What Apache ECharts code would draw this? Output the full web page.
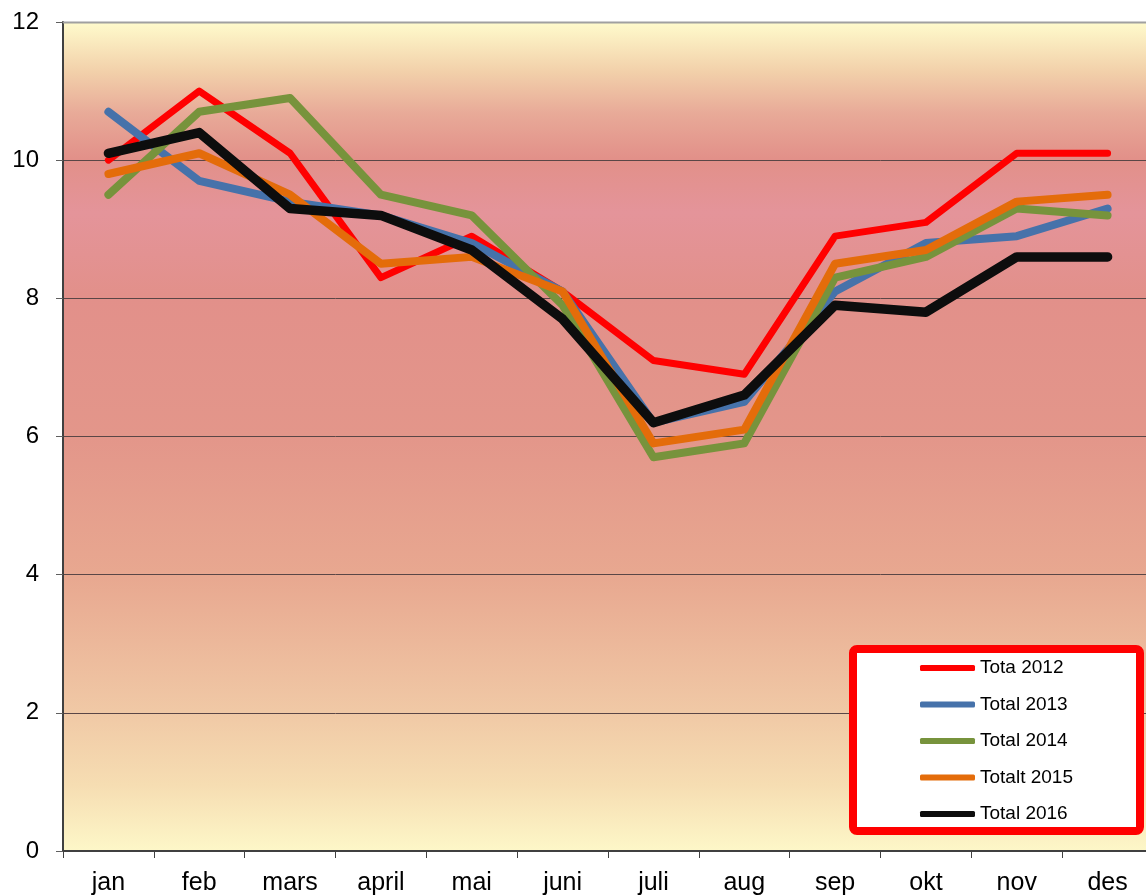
<!DOCTYPE html>
<html>
<head>
<meta charset="utf-8">
<script src="https://cdn.jsdelivr.net/npm/echarts@6/dist/echarts.min.js"></script>
<style>
html, body { margin: 0; padding: 0; background: #fff; overflow: hidden; }
#main { width: 1153px; height: 896px; }
</style>
</head>
<body>
<div id="main"></div>
<script>
var months = ['jan', 'feb', 'mars', 'april', 'mai', 'juni', 'juli', 'aug', 'sep', 'okt', 'nov', 'des'];
var names = ['Tota 2012', 'Total 2013', 'Total 2014', 'Totalt 2015', 'Total 2016'];
var total2012 = [10.0, 11.0, 10.1, 8.3, 8.9, 8.1, 7.1, 6.9, 8.9, 9.1, 10.1, 10.1];
var total2013 = [10.7, 9.7, 9.4, 9.2, 8.8, 8.1, 6.2, 6.5, 8.1, 8.8, 8.9, 9.3];
var total2014 = [9.5, 10.7, 10.9, 9.5, 9.2, 7.9, 5.7, 5.9, 8.3, 8.6, 9.3, 9.2];
var total2015 = [9.8, 10.1, 9.5, 8.5, 8.6, 8.1, 5.9, 6.1, 8.5, 8.7, 9.4, 9.5];
var total2016 = [10.1, 10.4, 9.3, 9.2, 8.7, 7.7, 6.2, 6.6, 7.9, 7.8, 8.6, 8.6];
var yTicks = [0, 2, 4, 6, 8, 10, 12];

var colors = ['#ff0000', '#4672aa', '#77933c', '#e46c0a', '#0d0d0d'];
var widths = [7, 8, 8, 8, 9.5];
var values = [total2012, total2013, total2014, total2015, total2016];

function makeSeries(i) {
	return {
		name: names[i],
		type: 'line',
		data: values[i],
		showSymbol: false,
		symbol: 'none',
		color: colors[i],
		lineStyle: { color: colors[i], width: widths[i], cap: 'round', join: 'round' },
		emphasis: { disabled: true },
		animation: false
	};
}

var myChart = echarts.init(document.getElementById('main'));
var option = {
	animation: false,
	textStyle: { fontFamily: 'Liberation Sans, Arial, sans-serif' },
	grid: {
		left: 63, top: 22, width: 1090, height: 829,
		show: true,
		borderWidth: 0,
		backgroundColor: new echarts.graphic.LinearGradient(0, 0, 0, 1, [
			{ offset: 0, color: '#fffbcc' },
			{ offset: 0.06, color: '#f2d0aa' },
			{ offset: 0.11, color: '#e8aa98' },
			{ offset: 0.165, color: '#e29089' },
			{ offset: 0.23, color: '#e4949a' },
			{ offset: 0.33, color: '#e2908a' },
			{ offset: 0.5, color: '#e3968a' },
			{ offset: 0.67, color: '#e8a890' },
			{ offset: 0.83, color: '#f0c8a5' },
			{ offset: 0.92, color: '#f6ddb2' },
			{ offset: 1, color: '#fdf7c8' }
		])
	},
	legend: {
		data: names,
		orient: 'vertical',
		left: 915,
		top: 653,
		z: 20,
		icon: 'roundRect',
		itemWidth: 55,
		itemHeight: 6,
		itemGap: 16.5,
		selectedMode: false,
		textStyle: { fontSize: 19, color: '#000', lineHeight: 20, fontFamily: 'Liberation Sans, Arial, sans-serif' }
	},
	graphic: [
		{
			type: 'rect',
			z: 15,
			shape: { x: 853, y: 649, width: 287, height: 182, r: 4 },
			style: { fill: '#fff', stroke: '#ff0000', lineWidth: 8 }
		},
		{
			type: 'line',
			z: 5,
			shape: { x1: 63, y1: 22.5, x2: 1153, y2: 22.5 },
			style: { stroke: '#a0a0a0', lineWidth: 2 }
		}
	],
	xAxis: {
		type: 'category',
		data: months,
		boundaryGap: true,
		axisLine: { lineStyle: { color: '#404040', width: 2 } },
		axisTick: { show: true, length: 7, lineStyle: { color: '#404040', width: 1 } },
		axisLabel: { fontSize: 25, color: '#000', margin: 20, interval: 0 },
		splitLine: { show: false }
	},
	yAxis: {
		type: 'value',
		min: yTicks[0],
		max: yTicks[yTicks.length - 1],
		interval: 2,
		axisLine: { show: true, lineStyle: { color: '#404040', width: 2 } },
		axisTick: { show: true, length: 7, lineStyle: { color: '#606060', width: 1 } },
		axisLabel: { fontSize: 24, color: '#000', margin: 24 },
		splitLine: { show: true, lineStyle: { color: '#5a4646', width: 1 } }
	},
	series: [0, 1, 2, 3, 4].map(makeSeries)
};
myChart.setOption(option);
</script>
</body>
</html>
